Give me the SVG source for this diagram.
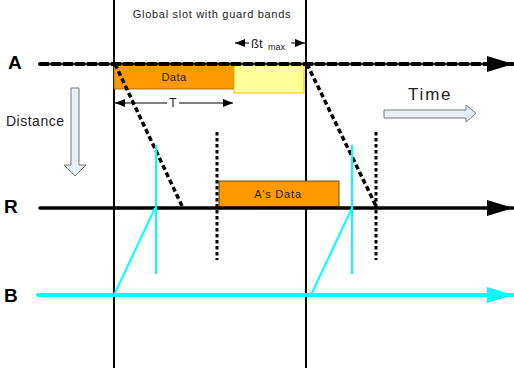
<svg xmlns="http://www.w3.org/2000/svg" width="514" height="368" viewBox="0 0 514 368">
<style>
.lbl{font-family:"Liberation Sans",Arial,sans-serif;font-weight:bold;font-size:19px;fill:#000}
.t{font-family:"Liberation Sans",Arial,sans-serif;fill:#222}
.dot{stroke:#000;stroke-width:3.5;stroke-dasharray:5 3;fill:none}
.vdot{stroke:#000;stroke-width:3;stroke-dasharray:3.5 2.5;fill:none}
.cy{stroke:#00FFFF;fill:none;stroke-width:2}
</style>
<defs>
<marker id="ah" markerWidth="26" markerHeight="16" refX="26" refY="8" orient="auto" markerUnits="userSpaceOnUse"><path d="M0,0 L26,8 L0,16 z" fill="#000"/></marker>
<marker id="ahc" markerWidth="26" markerHeight="16" refX="26" refY="8" orient="auto" markerUnits="userSpaceOnUse"><path d="M0,0 L26,8 L0,16 z" fill="#00FFFF"/></marker>
<marker id="sm" markerWidth="10" markerHeight="8" refX="10" refY="4" orient="auto-start-reverse" markerUnits="userSpaceOnUse"><path d="M0,0 L10,4 L0,8 z" fill="#000"/></marker>
</defs>
<g id="slot">
<line x1="114" y1="0" x2="114" y2="368" stroke="#000" stroke-width="2"/>
<line x1="306" y1="0" x2="306" y2="368" stroke="#000" stroke-width="2"/>
<text class="t" x="212" y="18" font-size="11" letter-spacing="0.7" text-anchor="middle">Global slot with guard bands</text>
</g>
<g id="data">
<rect x="114" y="63" width="120" height="26" fill="#FF9900" stroke="#8a5a10" stroke-width="0.8"/>
<text class="t" x="174" y="81" font-size="11" letter-spacing="0.5" text-anchor="middle">Data</text>
</g>
<g id="guard">
<rect x="234" y="63" width="70" height="30" fill="#FFFF99" stroke="#F0C000" stroke-width="1"/>
</g>
<g id="A">
<text class="lbl" x="8" y="69">A</text>
</g>
<g id="R">
<text class="lbl" x="4" y="213">R</text>
</g>
<g id="B">
<text class="lbl" x="4" y="302">B</text>
</g>
<g id="asdata">
<rect x="219" y="181" width="120" height="27" fill="#FF9900" stroke="#6b4a1a" stroke-width="1"/>
<text class="t" x="278" y="198" font-size="11" letter-spacing="0.8" text-anchor="middle">A's Data</text>
</g>
<g id="distance">
<path d="M71,88 H79 V165 H86 L75,176 L64,165 H71 Z" fill="#E8EEF8" stroke="#777" stroke-width="1"/>
<text class="t" x="6" y="126" font-size="14" letter-spacing="0.5">Distance</text>
</g>
<g id="time">
<path d="M384,110 H466 V105 L476,113.5 L466,122 V118 H384 Z" fill="#E8EEF8" stroke="#777" stroke-width="1"/>
<text class="t" x="408" y="100" font-size="17" letter-spacing="1.8">Time</text>
</g>
<g id="connectors">
<line x1="40" y1="64" x2="513" y2="64" stroke="#000" stroke-width="4" stroke-dasharray="8 4" stroke-linecap="round" marker-end="url(#ah)"/>
<line x1="40" y1="208" x2="513" y2="208" stroke="#000" stroke-width="3.5" stroke-linecap="round" marker-end="url(#ah)"/>
<line x1="38" y1="295" x2="513" y2="295" stroke="#00FFFF" stroke-width="4" stroke-linecap="round" marker-end="url(#ahc)"/>
<line class="dot" x1="115" y1="64" x2="182" y2="206"/>
<line class="dot" x1="307" y1="64" x2="376" y2="206"/>
<line class="vdot" x1="217" y1="132" x2="217" y2="260"/>
<line class="vdot" x1="376" y1="132" x2="376" y2="260"/>
<line class="cy" x1="156" y1="145" x2="156" y2="274"/>
<line class="cy" x1="352" y1="145" x2="352" y2="274"/>
<line class="cy" x1="114" y1="295" x2="155" y2="208"/>
<line class="cy" x1="311" y1="295" x2="352" y2="208"/>
<line x1="115" y1="103" x2="233" y2="103" stroke="#000" stroke-width="1" marker-start="url(#sm)" marker-end="url(#sm)"/>
<rect x="167" y="96" width="12" height="12" fill="#fff"/>
<text class="t" x="173" y="107" font-size="12" text-anchor="middle">T</text>
<line x1="235" y1="43" x2="305" y2="43" stroke="#000" stroke-width="1" marker-start="url(#sm)" marker-end="url(#sm)"/>
<rect x="249" y="35" width="42" height="14" fill="#fff"/>
<text class="t" x="251" y="48" font-size="13">ßt</text>
<text class="t" x="268" y="50" font-size="9">max</text>
</g>
</svg>
